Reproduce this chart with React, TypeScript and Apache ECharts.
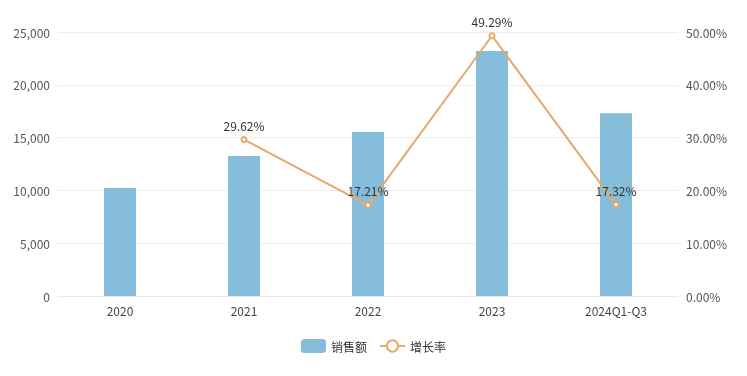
import React, { useEffect, useRef } from "react";
import * as echarts from "echarts";

const categories = ["2020", "2021", "2022", "2023", "2024Q1-Q3"];
const sales = [10230, 13260, 15540, 23200, 17300];
const growth: (number | null)[] = [null, 29.62, 17.21, 49.29, 17.32];
const seriesNames = ["销售额", "增长率"];

export default function App() {
  const ref = useRef<HTMLDivElement>(null);
  useEffect(() => {
    if (!ref.current) return;
    const chart = echarts.init(ref.current, null, { renderer: "svg" });
    const font = "'Microsoft YaHei', 'Noto Sans CJK SC', 'Noto Sans', sans-serif";
    chart.setOption({
      animation: false,
      textStyle: { fontFamily: font },
      grid: { left: 58, right: 69, top: 32, bottom: 80 },
      legend: {
        bottom: 18,
        left: "center",
        itemWidth: 25,
        itemHeight: 14,
        itemGap: 12,
        textStyle: { color: "#333", fontSize: 12, fontFamily: font },
        data: [
          { name: seriesNames[0], icon: "roundRect" },
          { name: seriesNames[1] },
        ],
      },
      xAxis: {
        type: "category",
        data: categories,
        axisTick: { show: false },
        axisLine: { lineStyle: { color: "#e8e8e8" } },
        axisLabel: { color: "#444", fontSize: 12, margin: 8 },
      },
      yAxis: [
        {
          type: "value",
          min: 0,
          max: 25000,
          interval: 5000,
          axisLabel: {
            color: "#555",
            fontSize: 12,
            formatter: (v: number) => v.toLocaleString("en-US"),
          },
          splitLine: { lineStyle: { color: "#eeeeee" } },
          axisLine: { show: false },
        },
        {
          type: "value",
          min: 0,
          max: 50,
          interval: 10,
          axisLabel: {
            color: "#555",
            fontSize: 12,
            formatter: (v: number) => v.toFixed(2) + "%",
          },
          splitLine: { show: false },
          axisLine: { show: false },
        },
      ],
      series: [
        {
          name: seriesNames[0],
          type: "bar",
          data: sales,
          barWidth: 32,
          itemStyle: { color: "#86bddb" },
        },
        {
          name: seriesNames[1],
          type: "line",
          yAxisIndex: 1,
          data: growth,
          symbol: "emptyCircle",
          symbolSize: 5,
          lineStyle: { color: "#e5a96c", width: 2 },
          itemStyle: { color: "#e5a96c" },
          label: {
            show: true,
            position: "top",
            color: "#333",
            fontSize: 12,
            formatter: (p: any) => p.value.toFixed(2) + "%",
          },
        },
      ],
    });
    return () => chart.dispose();
  }, []);
  return (
    <div
      ref={ref}
      style={{ position: "fixed", left: 0, top: 0, width: 747, height: 376 }}
    />
  );
}
